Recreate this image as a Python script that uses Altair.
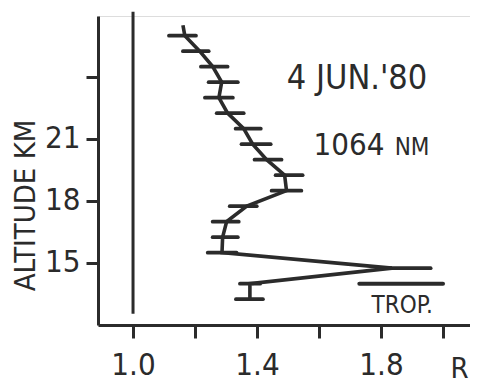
import altair as alt
import pandas as pd

# Profile (altitude in km, backscatter ratio R)
line_alt = [26.5, 26.0, 25.25, 24.5, 23.75, 23.0, 22.25, 21.5, 20.75, 20.0, 19.25,
            18.5, 17.75, 17.0, 16.25, 15.5, 14.75, 14.0, 13.25]
line_r = [1.161, 1.167, 1.215, 1.257, 1.286, 1.277, 1.305, 1.357, 1.386, 1.431, 1.489,
          1.495, 1.367, 1.302, 1.289, 1.287, 1.835, 1.377, 1.377]

# Error bars
err_alt = [26.0, 25.25, 24.5, 23.75, 23.0, 22.25, 21.5, 20.75, 20.0, 19.25,
           18.5, 17.75, 17.0, 16.25, 15.5, 14.75, 14.0, 13.25]
err_lo = [1.116, 1.161, 1.219, 1.244, 1.232, 1.270, 1.331, 1.350, 1.392, 1.460,
          1.447, 1.312, 1.257, 1.257, 1.241, 1.800, 1.345, 1.332]
err_hi = [1.203, 1.244, 1.305, 1.338, 1.322, 1.357, 1.412, 1.444, 1.479, 1.547,
          1.543, 1.399, 1.341, 1.338, 1.334, 1.960, 1.410, 1.419]

# Tropopause marker
trop_alt = [14.0]
trop_lo = [1.73]
trop_hi = [2.0]

# Reference line R = 1
ref_r = [1.0]
ref_top = [27.15]
ref_bottom = [12.55]

x_ticks = [1.0, 1.2, 1.4, 1.6, 1.8, 2.0]
x_labeled = ["1.0", "1.4", "1.8"]
y_ticks = [15, 18, 21, 24]
y_labeled = ["15", "18", "21"]

INK = "#2b2b2b"
FONT = "DejaVu Sans Condensed, DejaVu Sans Mono"

profile = pd.DataFrame({"alt": line_alt, "r": line_r, "i": list(range(len(line_alt)))})
errs = pd.DataFrame({"alt": err_alt, "lo": err_lo, "hi": err_hi})
trop = pd.DataFrame({"alt": trop_alt, "lo": trop_lo, "hi": trop_hi})
ref = pd.DataFrame({"r": ref_r, "top": ref_top, "bottom": ref_bottom})

xscale = alt.Scale(domain=[0.887, 2.087], nice=False, zero=False)
yscale = alt.Scale(domain=[12.0, 26.95], nice=False, zero=False)

x_label_expr = "indexof(" + str(x_labeled) + ", format(datum.value, '.1f')) >= 0 ? format(datum.value, '.1f') : ''"
y_label_expr = "indexof(" + str(y_labeled) + ", format(datum.value, 'd')) >= 0 ? format(datum.value, 'd') : ''"

xaxis = alt.Axis(values=x_ticks, labelExpr=x_label_expr, grid=False,
                 domainColor=INK, domainWidth=3, tickColor=INK, tickWidth=3, tickSize=13,
                 labelFont=FONT, labelFontSize=31, labelColor=INK, labelPadding=12,
                 labelBaseline="top", labelFlush=False, labelOverlap=False,
                 title="R", titleFont=FONT, titleFontSize=29, titleFontWeight="normal",
                 titleColor=INK, titleX=370, titleY=29, titleAlign="right",
                 titleBaseline="top")
yaxis = alt.Axis(values=y_ticks, labelExpr=y_label_expr, grid=False,
                 domainColor=INK, domainWidth=3, tickColor=INK, tickWidth=3, tickSize=12,
                 labelFont=FONT, labelFontSize=31, labelColor=INK, labelPadding=6,
                 labelBaseline="middle", labelFlush=False, labelOverlap=False,
                 title="ALTITUDE KM", titleFont=FONT, titleFontSize=29,
                 titleFontWeight="normal", titleColor=INK, titleX=-73, titleY=189,
                 titleAngle=-90, titleAlign="center", titleBaseline="middle")

base_x = alt.X("r:Q", scale=xscale, axis=xaxis)
base_y = alt.Y("alt:Q", scale=yscale, axis=yaxis)

line = alt.Chart(profile).mark_line(color=INK, strokeWidth=3.6, clip=False).encode(
    x=base_x, y=base_y, order="i:Q")

bars = alt.Chart(errs).mark_rule(color=INK, strokeWidth=3.8, strokeCap="round").encode(
    x=alt.X("lo:Q", scale=xscale), x2="hi:Q", y=alt.Y("alt:Q", scale=yscale))

trop_bar = alt.Chart(trop).mark_rule(color=INK, strokeWidth=4, strokeCap="round").encode(
    x=alt.X("lo:Q", scale=xscale), x2="hi:Q", y=alt.Y("alt:Q", scale=yscale))

ref_line = alt.Chart(ref).mark_rule(color=INK, strokeWidth=3).encode(
    x=alt.X("r:Q", scale=xscale), y=alt.Y("top:Q", scale=yscale), y2="bottom:Q")

def label(text, r, a, size, align="center"):
    d = pd.DataFrame({"t": [text], "r": [r], "alt": [a]})
    return alt.Chart(d).mark_text(font=FONT, fontSize=size, color=INK, align=align,
                                  baseline="alphabetic").encode(
        x=alt.X("r:Q", scale=xscale), y=alt.Y("alt:Q", scale=yscale), text="t:N")

t1 = label("4 JUN.'80", 1.7226, 23.42, 34)
t2 = label("1064", 1.697, 20.22, 31)
t3 = label("NM", 1.90, 20.22, 24)
t4 = label("TROP.", 1.868, 12.58, 24)

chart = alt.layer(ref_line, bars, trop_bar, line, t1, t2, t3, t4).properties(
    width=372, height=309,
    autosize=alt.AutoSizeParams(type="none"),
    padding={"left": 90, "top": 8, "right": 0, "bottom": 58},
).configure_view(stroke=None).configure(background="white")

chart.save("out.html", embed_options={"renderer": "svg", "actions": False})
